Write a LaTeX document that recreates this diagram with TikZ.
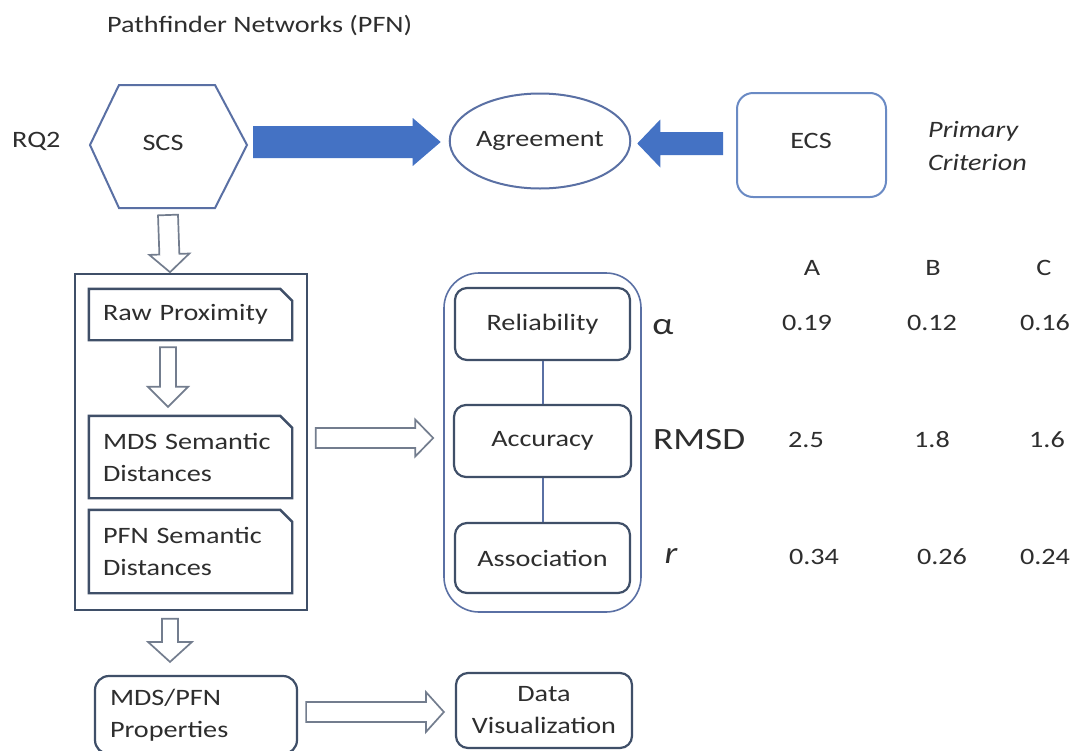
\documentclass[tikz,border=0pt]{standalone}
\usepackage{fontspec}
\setmainfont{Carlito}[FakeStretch=1.2]
\usetikzlibrary{calc,shapes.geometric}

\definecolor{ink}{HTML}{2E2E2E}
\definecolor{frame}{HTML}{3F4F68}
\definecolor{softframe}{HTML}{5A70A4}
\definecolor{lightframe}{HTML}{6A8AC4}
\definecolor{arrowblue}{HTML}{4472C4}
\definecolor{hollowgray}{HTML}{737D8E}

\begin{document}
\begin{tikzpicture}[x=1pt,y=-1pt,
  every node/.style={text=ink, font=\fontsize{23.5}{32}\selectfont},
  label/.style={inner sep=0},
  big/.style={font=\fontsize{31}{36}\selectfont, inner sep=0},
  roundbox/.style={draw=frame, line width=2.2pt, rounded corners=12pt,
    minimum width=175, minimum height=72, inner sep=0, align=center},
  snipbox/.style={minimum width=203, text width=175, inner xsep=14pt,
    inner ysep=0, align=left},
  snipline/.style={draw=frame, line width=2.4pt, line join=miter},
  thick arrow/.style={fill=arrowblue, draw=none},
  hollow arrow/.style={draw=hollowgray, fill=white, line width=1.7pt, line join=miter},
  % block arrow: shaft half width, head half width, head length (in pt)
  block arrow/.style n args={3}{to path={
    ($(\tikztotarget)!#3pt!(\tikztostart)$) coordinate (ab)
    ($(\tikztostart)!#1pt!90:(\tikztotarget)$)
    -- ($(ab)!#1pt!90:(\tikztotarget)$)
    -- ($(ab)!#2pt!90:(\tikztotarget)$)
    -- (\tikztotarget)
    -- ($(ab)!#2pt!-90:(\tikztotarget)$)
    -- ($(ab)!#1pt!-90:(\tikztotarget)$)
    -- ($(\tikztostart)!#1pt!-90:(\tikztotarget)$) -- cycle}},
  link/.style={draw=softframe, line width=2pt}
]
\fill[white] (0,0) rectangle (1073,750);
\useasboundingbox (0,0) rectangle (1073,750);

% title and question label
\node[label, anchor=west] (title) at (107,26) {Pathfinder Networks (PFN)};
\node[label, anchor=west] (rq) at (12,141) {RQ2};

% SCS hexagon
\draw[draw=softframe, line width=2pt, line join=miter]
  (90,145) -- (119,85) -- (215,85) -- (247,145) -- (215,208) -- (119,208) -- cycle;
\coordinate (hexE) at (247,145);
\coordinate (hexS) at (168,208);
\node[label] (scs) at (163,143) {SCS};

% agreement and external criterion
\node[ellipse, draw=softframe, line width=2pt, minimum width=168, minimum height=95,
  inner sep=0] (agr) at (540,141) {Agreement};
\node[draw=lightframe, line width=2pt, rounded corners=16pt, minimum width=149,
  minimum height=104, inner sep=0] (ecs) at (811.5,145) {};
\node[label] (ecst) at (811,141) {ECS};
\node[label, anchor=west, align=left, font=\fontsize{23.5}{33}\selectfont\itshape]
  (crit) at (928,146) {Primary\\Criterion};

% filled arrows towards the agreement
\coordinate (t1s) at ($(hexE)+(6,-3)$);
\coordinate (t1e) at ($(agr.west)+(-8,1)$);
\draw[thick arrow, block arrow={16}{24}{28}] (t1s) to (t1e);
\coordinate (t2s) at ($(ecs.west)+(-13,-1.5)$);
\coordinate (t2e) at ($(agr.east)+(6,2.5)$);
\draw[thick arrow, block arrow={11.5}{24}{23}] (t2s) to (t2e);

% processing chain
\node[draw=frame, line width=1.6pt, minimum width=232, minimum height=336, inner sep=0]
  (big) at (191,442) {};
\node[snipbox, minimum height=51] (raw) at (190.5,314.5) {Raw Proximity};
\node[snipbox, minimum height=82] (mds) at (190.5,457) {MDS Semantic\\Distances};
\node[snipbox, minimum height=83] (pfn) at (190.5,551.5) {PFN Semantic\\Distances};
\foreach \n in {raw,mds,pfn}
  \draw[snipline] (\n.north west) -- ($(\n.north east)+(-12,0)$)
    -- ($(\n.north east)+(0,12)$) -- (\n.south east) -- (\n.south west) -- cycle;

% evaluation criteria
\node[draw=softframe, line width=1.6pt, rounded corners=35pt, minimum width=197,
  minimum height=339, inner sep=0] (grp) at (542.5,442.5) {};
\node[roundbox] (rel) at (542.5,324) {Reliability};
\node[roundbox, minimum width=177] (acc) at (542.5,441) {Accuracy};
\node[roundbox, minimum height=70] (asc) at (542.5,558) {Association};
\draw[link] (rel) -- (acc);
\draw[link] (acc) -- (asc);

% outputs
\node[draw=frame, line width=2.2pt, rounded corners=14pt, minimum width=202,
  minimum height=78, text width=172, inner xsep=15pt, inner ysep=0, align=left]
  (props) at (196,715) {MDS/PFN\\Properties};
\node[roundbox, minimum width=176, minimum height=75] (data) at (544,710.5)
  {Data\\Visualization};

% hollow arrows
\coordinate (a1s) at (hexS |- 0,215);
\coordinate (a1e) at ($(big.north)+(-21,-1)$);
\draw[hollow arrow, block arrow={10}{20}{18}] (a1s) to (a1e);
\coordinate (a2s) at ($(raw.south)+(-22.5,7)$);
\coordinate (a2e) at ($(mds.north)+(-22.5,-9)$);
\draw[hollow arrow, block arrow={8}{20}{20}] (a2s) to (a2e);
\coordinate (a3s) at ($(big.south)+(-21,8)$);
\coordinate (a3e) at ($(props.north)+(-26,-13)$);
\draw[hollow arrow, block arrow={8}{22}{20}] (a3s) to (a3e);
\coordinate (a4s) at ($(big.east)+(8,-4)$);
\coordinate (a4e) at ($(grp.west)+(-10,-4.5)$);
\draw[hollow arrow, block arrow={10}{18.5}{18}] (a4s) to (a4e);
\coordinate (a5s) at ($(props.east)+(8,-3)$);
\coordinate (a5e) at ($(data.west)+(-11,1.5)$);
\draw[hollow arrow, block arrow={10}{20}{18}] (a5s) to (a5e);

% measures and values per group
\node[big] (malpha) at (663,327) {α};
\node[big, anchor=west] (mrmsd) at (653,440) {RMSD};
\node[big, font=\fontsize{31}{36}\selectfont\itshape] (mr) at (671,556) {r};

\node[label] (hA) at (812,268) {A};
\node[label] (hB) at (933,268) {B};
\node[label] (hC) at (1044,268) {C};

\node[label] (v11) at (807,323) {0.19};
\node[label] (v12) at (932,323) {0.12};
\node[label] (v13) at (1045,323) {0.16};
\node[label] (v21) at (806,440) {2.5};
\node[label] (v22) at (932,440) {1.8};
\node[label] (v23) at (1047,440) {1.6};
\node[label] (v31) at (814,557) {0.34};
\node[label] (v32) at (942,557) {0.26};
\node[label] (v33) at (1045,557) {0.24};
\end{tikzpicture}
\end{document}
